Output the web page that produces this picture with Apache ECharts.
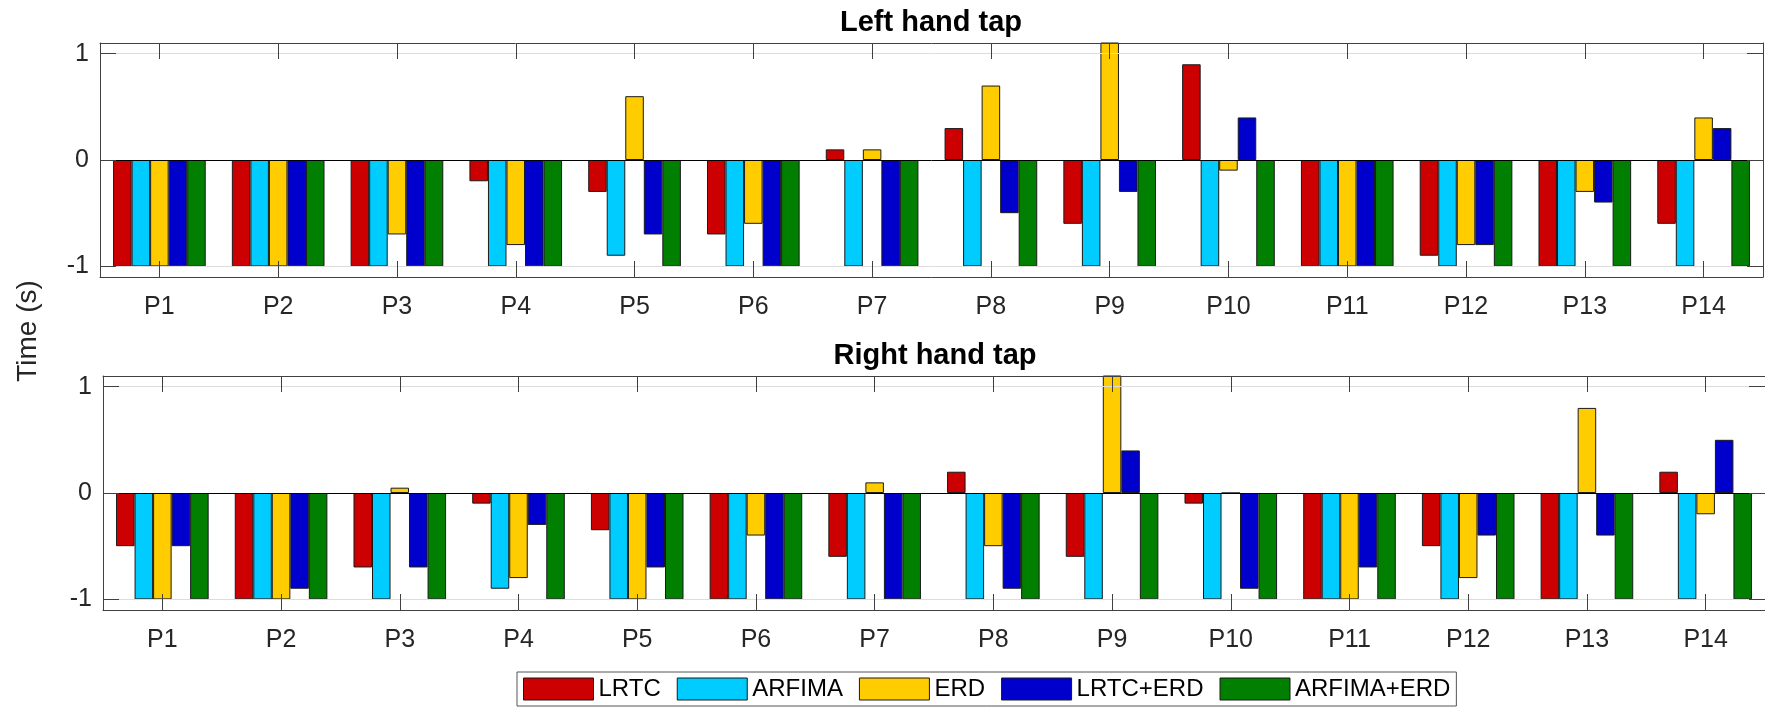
<!DOCTYPE html>
<html>
<head>
<meta charset="utf-8">
<script src="https://cdn.jsdelivr.net/npm/echarts@6/dist/echarts.min.js"></script>
<style>
  html, body { margin: 0; background: #fff; }
  #chart { width: 1765px; height: 708px; }
</style>
</head>
<body>
<div id="chart"></div>
<script>
const categories = ["P1", "P2", "P3", "P4", "P5", "P6", "P7", "P8", "P9", "P10", "P11", "P12", "P13", "P14"];
const seriesNames = ["LRTC", "ARFIMA", "ERD", "LRTC+ERD", "ARFIMA+ERD"];
const yTicks = [-1, 0, 1];

// Left hand tap (top panel); ERD at P9 runs past the top of the axes
const leftLRTC       = [-1, -1, -1, -0.2, -0.3, -0.7, 0.1, 0.3, -0.6, 0.9, -1, -0.9, -1, -0.6];
const leftARFIMA     = [-1, -1, -1, -1, -0.9, -1, -1, -1, -1, -1, -1, -1, -1, -1];
const leftERD        = [-1, -1, -0.7, -0.8, 0.6, -0.6, 0.1, 0.7, 1.2, -0.1, -1, -0.8, -0.3, 0.4];
const leftLRTCERD    = [-1, -1, -1, -1, -0.7, -1, -1, -0.5, -0.3, 0.4, -1, -0.8, -0.4, 0.3];
const leftARFIMAERD  = [-1, -1, -1, -1, -1, -1, -1, -1, -1, -1, -1, -1, -1, -1];

// Right hand tap (bottom panel)
const rightLRTC      = [-0.5, -1, -0.7, -0.1, -0.35, -1, -0.6, 0.2, -0.6, -0.1, -1, -0.5, -1, 0.2];
const rightARFIMA    = [-1, -1, -1, -0.9, -1, -1, -1, -1, -1, -1, -1, -1, -1, -1];
const rightERD       = [-1, -1, 0.05, -0.8, -1, -0.4, 0.1, -0.5, 1.2, 0, -1, -0.8, 0.8, -0.2];
const rightLRTCERD   = [-0.5, -0.9, -0.7, -0.3, -0.7, -1, -1, -0.9, 0.4, -0.9, -0.7, -0.4, -0.4, 0.5];
const rightARFIMAERD = [-1, -1, -1, -1, -1, -1, -1, -1, -1, -1, -1, -1, -1, -1];

const panels = [
  { title: "Left hand tap", values: [leftLRTC, leftARFIMA, leftERD, leftLRTCERD, leftARFIMAERD] },
  { title: "Right hand tap", values: [rightLRTC, rightARFIMA, rightERD, rightLRTCERD, rightARFIMAERD] },
];

const colors = ["#cc0000", "#00ccff", "#ffcc00", "#0000cc", "#007f00"];
const font = "'Liberation Sans', Arial, Helvetica, sans-serif";
const axisColor = "#404040";
const textColor = "#262626";
const grids = [
  { left: 100, right: 2, top: 43, height: 234 },
  { left: 103, right: -3, top: 376, height: 234 },
];

const chart = echarts.init(document.getElementById("chart"));

const xAxis = [];
const yAxis = [];
const series = [];
panels.forEach((panel, p) => {
  const line = { lineStyle: { color: axisColor, width: 1 } };
  const tick = { show: true, inside: true, length: 16, alignWithLabel: true, interval: 0, lineStyle: { color: axisColor } };
  xAxis.push({
    type: "category", gridIndex: p, data: categories, position: "bottom", z: 5,
    axisLine: { show: true, onZero: false, ...line }, axisTick: tick,
    axisLabel: { interval: 0, fontSize: 25, color: textColor, fontFamily: font, margin: 18 },
    splitLine: { show: false },
  });
  xAxis.push({
    type: "category", gridIndex: p, data: categories, position: "top", z: 5,
    axisLine: { show: true, onZero: false, ...line }, axisTick: tick,
    axisLabel: { show: false }, splitLine: { show: false },
  });
  const yTick = { show: true, inside: true, length: 16, customValues: yTicks, lineStyle: { color: axisColor } };
  yAxis.push({
    type: "value", gridIndex: p, min: -1.1, max: 1.1, position: "left", z: 5,
    axisLine: { show: true, ...line }, axisTick: yTick,
    axisLabel: { customValues: yTicks, fontSize: 25, color: textColor, fontFamily: font, margin: 11 },
    splitLine: { show: false },
  });
  yAxis.push({
    type: "value", gridIndex: p, min: -1.1, max: 1.1, position: "right", z: 5,
    axisLine: { show: true, ...line }, axisTick: yTick,
    axisLabel: { show: false }, splitLine: { show: false },
  });

  panel.values.forEach((data, k) => {
    const s = {
      name: seriesNames[k], type: "bar",
      xAxisIndex: p * 2, yAxisIndex: p * 2,
      data, barGap: "0%", barCategoryGap: "22%", clip: true,
      itemStyle: { color: colors[k], borderColor: "#1a1a1a", borderWidth: 1 },
    };
    if (k === 0) {
      // grid lines at +-1 and the black baseline at 0
      s.markLine = {
        silent: true, symbol: ["none", "none"], label: { show: false },
        data: [
          { yAxis: 1, lineStyle: { color: "#dcdcdc", width: 1, type: "solid" } },
          { yAxis: -1, lineStyle: { color: "#dcdcdc", width: 1, type: "solid" } },
          { yAxis: 0, lineStyle: { color: "#000", width: 1, type: "solid" } },
        ],
      };
    }
    series.push(s);
  });
});

chart.setOption({
  animation: false,
  backgroundColor: "#fff",
  color: colors,
  title: [
    { text: "Left hand tap", left: 931, top: 8, padding: 0, textAlign: "center",
      textStyle: { fontSize: 29, fontWeight: "bold", color: "#000", fontFamily: font } },
    { text: "Right hand tap", left: 935, top: 341, padding: 0, textAlign: "center",
      textStyle: { fontSize: 29, fontWeight: "bold", color: "#000", fontFamily: font } },
  ],
  legend: {
    data: seriesNames, left: 517, top: 672, icon: "rect",
    itemWidth: 70, itemHeight: 22, itemGap: 16, padding: [5, 6, 5, 6],
    borderColor: "#555", borderWidth: 1, backgroundColor: "#fff", selectedMode: false,
    itemStyle: { borderColor: "#1a1a1a", borderWidth: 1 },
    textStyle: { fontSize: 24, color: "#000", fontFamily: font },
  },
  graphic: [{
    type: "text", x: 28, y: 331, rotation: Math.PI / 2,
    style: { text: "Time (s)", fontSize: 28, fontFamily: font, fill: textColor, align: "center", verticalAlign: "middle" },
  }],
  grid: grids,
  xAxis, yAxis, series,
});
</script>
</body>
</html>
